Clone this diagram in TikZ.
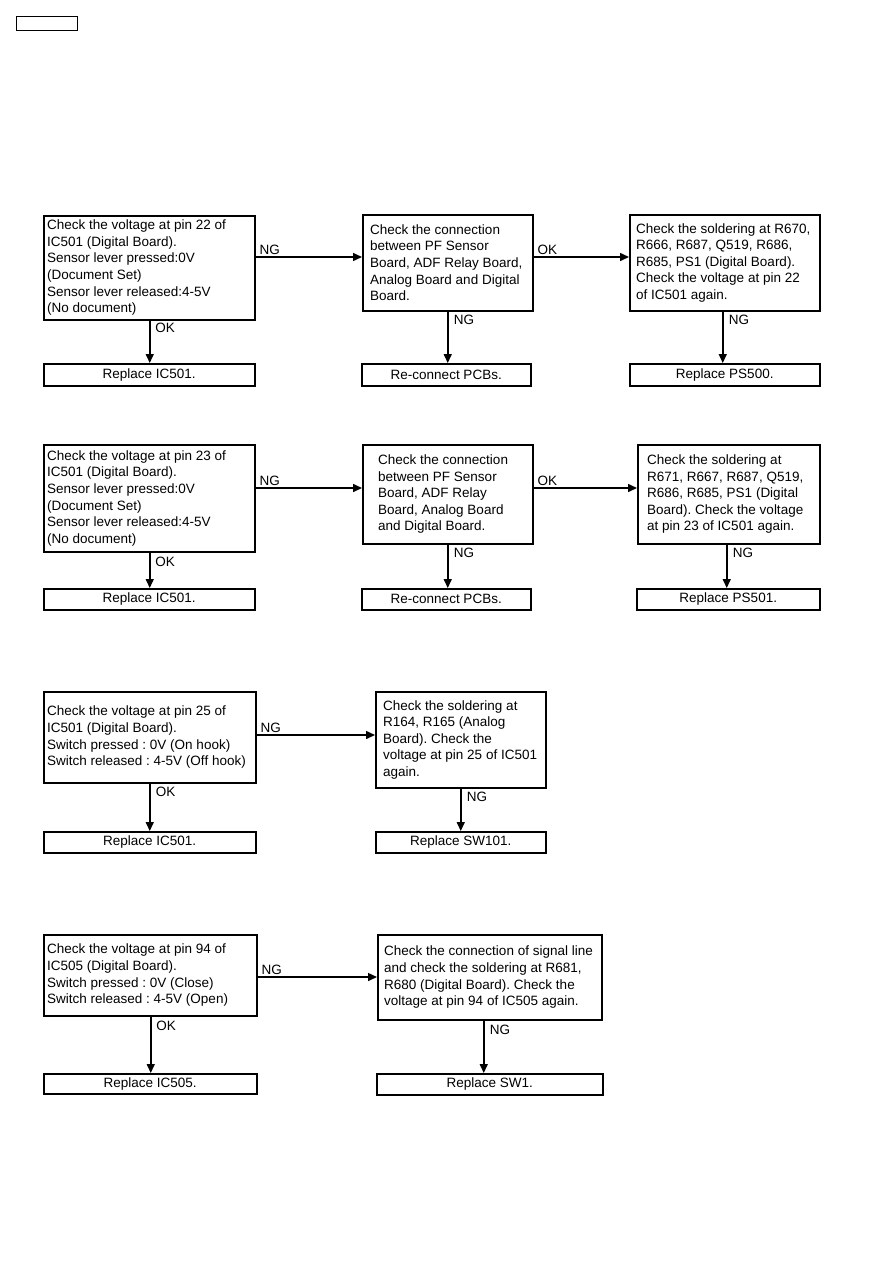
\documentclass[tikz,border=0pt]{standalone}
\usepackage{fontspec}
\setmainfont{Liberation Sans}
\usetikzlibrary{arrows.meta}
\frenchspacing
\tikzset{
  box/.style={draw, line width=1.5pt, anchor=north west, inner sep=0pt},
  txt/.style={anchor=west, align=left, inner sep=0pt, font=\fontsize{13.5}{16.6}\selectfont},
  rtxt/.style={box, font=\fontsize{13.5}{16.6}\selectfont},
  arr/.style={line width=1.5pt, -{Triangle[length=9pt,width=8pt]}},
  lbl/.style={inner sep=0pt, font=\fontsize{13.5}{16.6}\selectfont},
}
\begin{document}
\begin{tikzpicture}[x=1pt,y=-1pt]
\useasboundingbox (0,0) rectangle (893,1263);
\node[box, line width=1.2pt, minimum width=61pt, minimum height=14pt] (hdr) at (16,16) {};

% ---------- Row 1
\node[box, minimum width=211pt, minimum height=104pt] (a1) at (43,215) {};
\node[txt] (a1t) at ([xshift=4pt]a1.west) {Check the voltage at pin 22 of\\IC501 (Digital Board).\\Sensor lever pressed:0V\\(Document Set)\\Sensor lever released:4-5V\\(No document)};
\node[rtxt, minimum width=211pt, minimum height=22pt] (r1a) at (43,363) {Replace IC501.};
\node[box, minimum width=170pt, minimum height=96pt] (b1) at (362,214) {};
\node[txt] (b1t) at ([xshift=8pt]b1.west) {Check the connection\\between PF Sensor\\Board, ADF Relay Board,\\Analog Board and Digital\\Board.};
\node[rtxt, minimum width=169pt, minimum height=22pt] (r1b) at (361,363) {Re-connect PCBs.};
\node[box, minimum width=190pt, minimum height=96pt] (c1) at (629,214) {};
\node[txt] (c1t) at ([xshift=7pt]c1.west) {Check the soldering at R670,\\R666, R687, Q519, R686,\\R685, PS1 (Digital Board).\\Check the voltage at pin 22\\of IC501 again.};
\node[rtxt, minimum width=190pt, minimum height=22pt] (r1c) at (629,363) {Replace PS500.};
\coordinate (y1) at (0,257);
\draw[arr] (a1.east |- y1) coordinate (s1) -- (b1.west |- y1);
\draw[arr] (b1.east |- y1) coordinate (s2) -- (c1.west |- y1);
\draw[arr] ([xshift=0.5pt]a1.south) -- ([xshift=0.5pt]a1.south |- r1a.north);
\draw[arr] (b1.south) -- (b1.south |- r1b.north);
\draw[arr] ([xshift=-2pt]c1.south) -- ([xshift=-2pt]c1.south |- r1c.north);
\node[lbl, anchor=south west] (l1) at ([xshift=4pt,yshift=2pt]s1) {NG};
\node[lbl, anchor=south west] (l2) at ([xshift=4pt,yshift=2pt]s2) {OK};
\node[lbl, anchor=north west] (l3) at ([xshift=6pt,yshift=-2pt]a1.south) {OK};
\node[lbl, anchor=north west] (l4) at ([xshift=6pt,yshift=-3pt]b1.south) {NG};
\node[lbl, anchor=north west] (l5) at ([xshift=4pt,yshift=-3pt]c1.south) {NG};

% ---------- Row 2
\node[box, minimum width=211pt, minimum height=107pt] (a2) at (43,444) {};
\node[txt] (a2t) at ([xshift=4pt]a2.west) {Check the voltage at pin 23 of\\IC501 (Digital Board).\\Sensor lever pressed:0V\\(Document Set)\\Sensor lever released:4-5V\\(No document)};
\node[rtxt, minimum width=211pt, minimum height=21pt] (r2a) at (43,588) {Replace IC501.};
\node[box, minimum width=170pt, minimum height=99pt] (b2) at (362,444) {};
\node[txt] (b2t) at ([xshift=16pt]b2.west) {Check the connection\\between PF Sensor\\Board, ADF Relay\\Board, Analog Board\\and Digital Board.};
\node[rtxt, minimum width=169pt, minimum height=21pt] (r2b) at (361,588) {Re-connect PCBs.};
\node[box, minimum width=182pt, minimum height=99pt] (c2) at (637,444) {};
\node[txt] (c2t) at ([xshift=10pt]c2.west) {Check the soldering at\\R671, R667, R687, Q519,\\R686, R685, PS1 (Digital\\Board). Check the voltage\\at pin 23 of IC501 again.};
\node[rtxt, minimum width=183pt, minimum height=21pt] (r2c) at (636,588) {Replace PS501.};
\coordinate (y2) at (0,488);
\draw[arr] (a2.east |- y2) coordinate (s3) -- (b2.west |- y2);
\draw[arr] (b2.east |- y2) coordinate (s4) -- (c2.west |- y2);
\draw[arr] ([xshift=0.5pt]a2.south) -- ([xshift=0.5pt]a2.south |- r2a.north);
\draw[arr] (b2.south) -- (b2.south |- r2b.north);
\draw[arr] ([xshift=-2pt]c2.south) -- ([xshift=-2pt]c2.south |- r2c.north);
\node[lbl, anchor=south west] (l6) at ([xshift=4pt,yshift=2pt]s3) {NG};
\node[lbl, anchor=south west] (l7) at ([xshift=4pt,yshift=2pt]s4) {OK};
\node[lbl, anchor=north west] (l8) at ([xshift=6pt,yshift=-4pt]a2.south) {OK};
\node[lbl, anchor=north west] (l9) at ([xshift=6pt,yshift=-3pt]b2.south) {NG};
\node[lbl, anchor=north west] (l10) at ([xshift=4pt,yshift=-3pt]c2.south) {NG};

% ---------- Row 3
\node[box, minimum width=212pt, minimum height=91pt] (a3) at (43,691) {};
\node[txt] (a3t) at ([xshift=4pt]a3.west) {Check the voltage at pin 25 of\\IC501 (Digital Board).\\Switch pressed : 0V (On hook)\\Switch released : 4-5V (Off hook)};
\node[rtxt, minimum width=212pt, minimum height=21pt] (r3a) at (43,831) {Replace IC501.};
\node[box, minimum width=170pt, minimum height=96pt] (b3) at (375,691) {};
\node[txt] (b3t) at ([xshift=8pt]b3.west) {Check the soldering at\\R164, R165 (Analog\\Board). Check the\\voltage at pin 25 of IC501\\again.};
\node[rtxt, minimum width=170pt, minimum height=21pt] (r3b) at (375,831) {Replace SW101.};
\coordinate (y3) at (0,735);
\draw[arr] (a3.east |- y3) coordinate (s5) -- (b3.west |- y3);
\draw[arr] (a3.south) -- (a3.south |- r3a.north);
\draw[arr] (b3.south) -- (b3.south |- r3b.north);
\node[lbl, anchor=south west] (l11) at ([xshift=4pt,yshift=2pt]s5) {NG};
\node[lbl, anchor=north west] (l12) at ([xshift=6pt,yshift=-3pt]a3.south) {OK};
\node[lbl, anchor=north west] (l13) at ([xshift=6pt,yshift=-3pt]b3.south) {NG};

% ---------- Row 4
\node[box, minimum width=213pt, minimum height=81pt] (a4) at (43,934) {};
\node[txt] (a4t) at ([xshift=4pt]a4.west) {Check the voltage at pin 94 of\\IC505 (Digital Board).\\Switch pressed : 0V (Close)\\Switch released : 4-5V (Open)};
\node[rtxt, minimum width=213pt, minimum height=20pt] (r4a) at (43,1073) {Replace IC505.};
\node[box, minimum width=224pt, minimum height=85pt] (b4) at (377,934) {};
\node[txt] (b4t) at ([xshift=7pt]b4.west) {Check the connection of signal line\\and check the soldering at R681,\\R680 (Digital Board). Check the\\voltage at pin 94 of IC505 again.};
\node[rtxt, minimum width=226pt, minimum height=21pt] (r4b) at (376,1073) {Replace SW1.};
\coordinate (y4) at (0,977);
\draw[arr] (a4.east |- y4) coordinate (s6) -- (b4.west |- y4);
\draw[arr] ([xshift=0.5pt]a4.south) -- ([xshift=0.5pt]a4.south |- r4a.north);
\draw[arr] ([xshift=-6pt]b4.south) -- ([xshift=-6pt]b4.south |- r4b.north);
\node[lbl, anchor=south west] (l14) at ([xshift=4pt,yshift=2pt]s6) {NG};
\node[lbl, anchor=north west] (l15) at ([xshift=6pt,yshift=-4pt]a4.south) {OK};
\node[lbl, anchor=north west] (l16) at ([xshift=0pt,yshift=-4pt]b4.south) {NG};
\end{tikzpicture}
\end{document}
